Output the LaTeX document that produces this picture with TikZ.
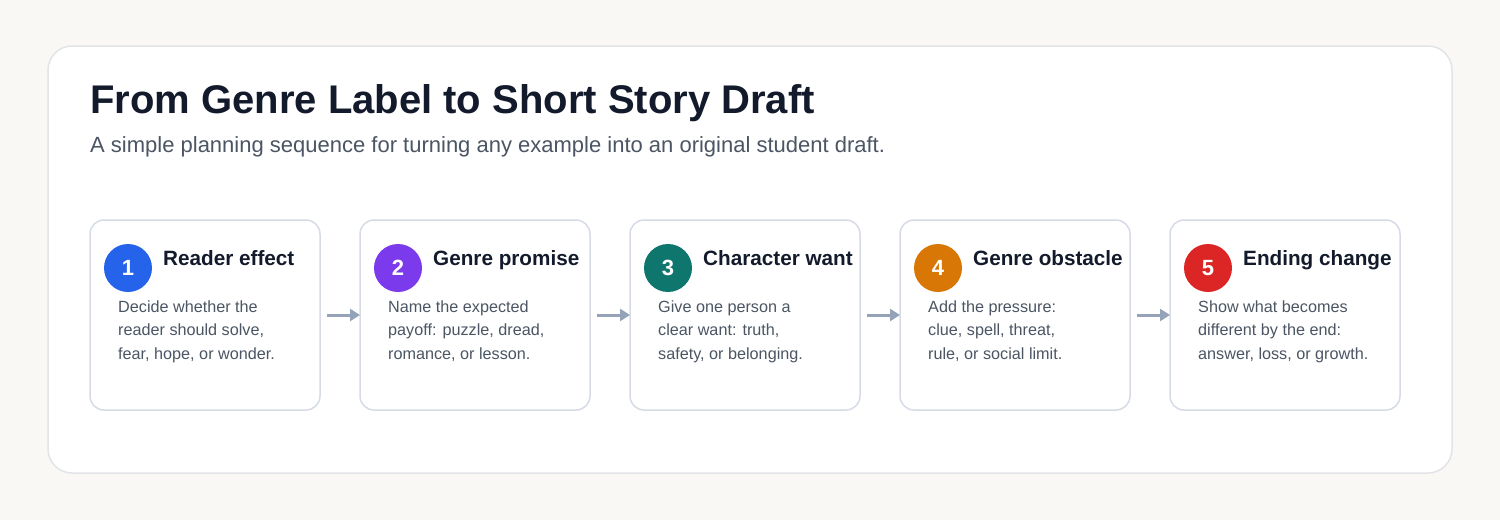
\documentclass[tikz,border=0pt]{standalone}
\usepackage{fontspec}
\setmainfont{Liberation Sans}
\usetikzlibrary{positioning,arrows.meta}

\definecolor{pagebg}{HTML}{F9F8F5}
\definecolor{panelline}{HTML}{E3E4E8}
\definecolor{cardline}{HTML}{D6DBE6}
\definecolor{ink}{HTML}{131A2B}
\definecolor{muted}{HTML}{4B5563}
\definecolor{flowgray}{HTML}{94A3B8}
\definecolor{stepA}{HTML}{2563EB}
\definecolor{stepB}{HTML}{7C3AED}
\definecolor{stepC}{HTML}{0F766E}
\definecolor{stepD}{HTML}{D97706}
\definecolor{stepE}{HTML}{DC2626}

\begin{document}
\begin{tikzpicture}
[x=1pt,y=-1pt,
 card/.style={draw=cardline,line width=1.5pt,fill=white,rounded corners=14pt,
              minimum width=230pt,minimum height=190pt,inner sep=0pt,outer sep=0pt,anchor=north west},
 badge/.style={circle,minimum size=48pt,inner sep=0pt,text=white,
               font=\fontsize{22}{24}\selectfont\bfseries},
 head/.style={anchor=base west,inner sep=0pt,text=ink,
              font=\fontsize{20.7}{24}\selectfont\bfseries},
 body/.style={anchor=base west,inner sep=0pt,text=muted,align=left,
              font=\fontsize{16.2}{23.5}\selectfont},
 flow/.style={draw=flowgray,line width=3pt,shorten <=7pt,
              -{Triangle[length=10pt,width=12pt]}}]
\useasboundingbox (0,0) rectangle (1500,520);
\fill[pagebg] (0,0) rectangle (1500,520);
\draw[panelline,line width=1.5pt,fill=white,rounded corners=24pt] (48,46) rectangle (1452,473);

\node[anchor=base west,inner sep=0pt,text=ink,font=\fontsize{40}{44}\selectfont\bfseries]
  (title) at (90,113) {From Genre Label to Short Story Draft};
\node[anchor=base west,inner sep=0pt,text=muted,font=\fontsize{22}{26}\selectfont]
  (subtitle) at (90,152) {A simple planning sequence for turning any example into an original student draft.};

% the five cards
\node[card] (c1) at (90,220) {};
\node[card] (c2) [right=40pt of c1.north east,anchor=north west] {};
\node[card] (c3) [right=40pt of c2.north east,anchor=north west] {};
\node[card] (c4) [right=40pt of c3.north east,anchor=north west] {};
\node[card] (c5) [right=40pt of c4.north east,anchor=north west] {};

\node[badge,fill=stepA] (b1) at ([shift={(38,48)}]c1.north west) {1};
\node[badge,fill=stepB] (b2) at ([shift={(38,48)}]c2.north west) {2};
\node[badge,fill=stepC] (b3) at ([shift={(38,48)}]c3.north west) {3};
\node[badge,fill=stepD] (b4) at ([shift={(38,48)}]c4.north west) {4};
\node[badge,fill=stepE] (b5) at ([shift={(38,48)}]c5.north west) {5};

\node[head] (h1) at ([shift={(73,45)}]c1.north west) {Reader effect};
\node[head] (h2) at ([shift={(73,45)}]c2.north west) {Genre promise};
\node[head] (h3) at ([shift={(73,45)}]c3.north west) {Character want};
\node[head] (h4) at ([shift={(73,45)}]c4.north west) {Genre obstacle};
\node[head] (h5) at ([shift={(73,45)}]c5.north west) {Ending change};

\node[body] (t1) at ([shift={(28,139)}]c1.north west) {Decide whether the\\reader should solve,\\fear, hope, or wonder.};
\node[body] (t2) at ([shift={(28,139)}]c2.north west) {Name the expected\\payoff: puzzle, dread,\\romance, or lesson.};
\node[body] (t3) at ([shift={(28,139)}]c3.north west) {Give one person a\\clear want: truth,\\safety, or belonging.};
\node[body] (t4) at ([shift={(28,139)}]c4.north west) {Add the pressure:\\clue, spell, threat,\\rule, or social limit.};
\node[body] (t5) at ([shift={(28,139)}]c5.north west) {Show what becomes\\different by the end:\\answer, loss, or growth.};

\path[flow] (c1.east) -- (c2.west);
\path[flow] (c2.east) -- (c3.west);
\path[flow] (c3.east) -- (c4.west);
\path[flow] (c4.east) -- (c5.west);
\end{tikzpicture}
\end{document}
